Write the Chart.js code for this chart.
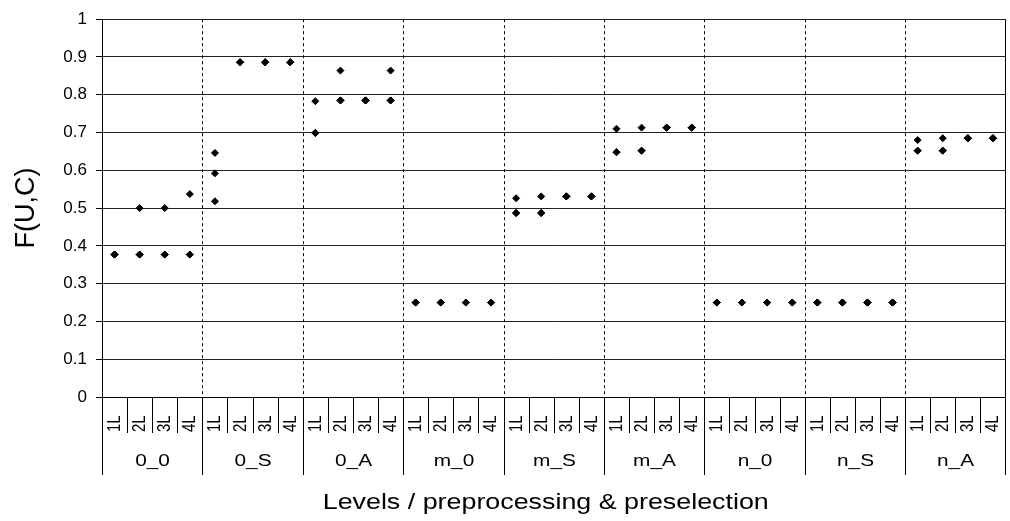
<!DOCTYPE html>
<html>
<head>
<meta charset="utf-8">
<script src="https://cdn.jsdelivr.net/npm/chart.js@4/dist/chart.umd.min.js"></script>
<style>
  html, body { margin: 0; padding: 0; background: #fff; }
  #wrap { width: 1010px; height: 521px; }
</style>
</head>
<body>
<div id="wrap"><canvas id="chart"></canvas></div>
<script>
// ------- Dati -------
const groups = ['0_0', '0_S', '0_A', 'm_0', 'm_S', 'm_A', 'n_0', 'n_S', 'n_A'];
const levels = ['1L', '2L', '3L', '4L'];
const yTicks = [0, 0.1, 0.2, 0.3, 0.4, 0.5, 0.6, 0.7, 0.8, 0.9, 1];

// valori: tre serie, dove coincidono i punti si sovrappongono
const seriesHigh = [
  0.377, 0.500, 0.500, 0.537,   // 0_0
  0.646, 0.886, 0.886, 0.886,   // 0_S
  0.783, 0.864, 0.785, 0.864,   // 0_A
  0.250, 0.250, 0.250, 0.250,   // m_0
  0.526, 0.531, 0.531, 0.531,   // m_S
  0.710, 0.713, 0.713, 0.713,   // m_A
  0.250, 0.250, 0.250, 0.250,   // n_0
  0.250, 0.250, 0.250, 0.250,   // n_S
  0.680, 0.685, 0.685, 0.685    // n_A
];
const seriesMid = [
  0.377, 0.377, 0.377, 0.377,
  0.592, 0.886, 0.886, 0.886,
  0.699, 0.785, 0.785, 0.785,
  0.250, 0.250, 0.250, 0.250,
  0.487, 0.487, 0.531, 0.531,
  0.648, 0.652, 0.713, 0.713,
  0.250, 0.250, 0.250, 0.250,
  0.250, 0.250, 0.250, 0.250,
  0.652, 0.652, 0.685, 0.685
];
const seriesLow = [
  0.377, 0.377, 0.377, 0.377,
  0.518, 0.886, 0.886, 0.886,
  0.699, 0.785, 0.785, 0.785,
  0.250, 0.250, 0.250, 0.250,
  0.487, 0.487, 0.531, 0.531,
  0.648, 0.652, 0.713, 0.713,
  0.250, 0.250, 0.250, 0.250,
  0.250, 0.250, 0.250, 0.250,
  0.652, 0.652, 0.685, 0.685
];

const FONT = "'Liberation Sans', Arial, sans-serif";

// etichette: un livello per ogni categoria, ripetuto per ogni gruppo
const labels = [];
groups.forEach(g => levels.forEach(l => labels.push(l)));

function makeSeries(name, data) {
  return {
    label: name,
    data: data,
    showLine: false,
    pointStyle: 'rectRot',
    pointRadius: 3.5,
    pointHoverRadius: 3.5,
    borderWidth: 1,
    borderColor: '#000',
    backgroundColor: '#000'
  };
}

// testo allargato in orizzontale, come nell'originale
function stretchedText(ctx, text, cx, cy, sx, rot) {
  ctx.save();
  ctx.translate(cx, cy);
  ctx.scale(sx, 1);
  if (rot) ctx.rotate(rot);
  ctx.fillText(text, 0, 0);
  ctx.restore();
}

// ------- Plugin per l'asse x a due livelli -------
const groupAxisPlugin = {
  id: 'groupAxis',
  afterDraw(chart) {
    const ctx = chart.ctx;
    const area = chart.chartArea;
    const x = chart.scales.x;
    const n = labels.length;
    const cell = x.getPixelForValue(1) - x.getPixelForValue(0);
    const boundary = i => Math.round(x.getPixelForValue(0) - cell / 2 + i * cell) + 0.5;

    ctx.save();
    ctx.strokeStyle = '#000';
    ctx.lineWidth = 1;

    // linee tratteggiate fra i gruppi
    ctx.setLineDash([3, 3]);
    for (let i = levels.length; i < n; i += levels.length) {
      ctx.beginPath();
      ctx.moveTo(boundary(i), area.top);
      ctx.lineTo(boundary(i), area.bottom);
      ctx.stroke();
    }
    ctx.setLineDash([]);

    // bordo destro
    ctx.beginPath();
    ctx.moveTo(Math.round(area.right) - 0.5, area.top);
    ctx.lineTo(Math.round(area.right) - 0.5, area.bottom);
    ctx.stroke();

    // separatori sotto l'asse
    for (let i = 0; i <= n; i++) {
      const isGroup = i % levels.length === 0;
      let bx = boundary(i);
      if (i === n) bx = Math.round(area.right) - 0.5;
      ctx.beginPath();
      ctx.moveTo(bx, area.bottom);
      ctx.lineTo(bx, area.bottom + (isGroup ? 78 : 36));
      ctx.stroke();
    }

    // livelli ruotati
    ctx.fillStyle = '#000';
    ctx.font = '15px ' + FONT;
    ctx.textAlign = 'left';
    ctx.textBaseline = 'middle';
    for (let i = 0; i < n; i++) {
      stretchedText(ctx, labels[i], x.getPixelForValue(i) + 0.5, area.bottom + 35, 1.2, -Math.PI / 2);
    }

    // nomi dei gruppi
    ctx.font = '16px ' + FONT;
    ctx.textAlign = 'center';
    groups.forEach((g, gi) => {
      const cx = (boundary(gi * levels.length) + boundary((gi + 1) * levels.length)) / 2;
      stretchedText(ctx, g, cx, area.bottom + 65, 1.3);
    });

    // titolo asse x
    ctx.font = '22px ' + FONT;
    stretchedText(ctx, 'Levels / preprocessing & preselection', (area.left + area.right) / 2 - 8, area.bottom + 106, 1.22);
    ctx.restore();
  }
};

// ------- Grafico -------
const chart = new Chart(document.getElementById('chart'), {
  type: 'line',
  data: {
    labels: labels,
    datasets: [
      makeSeries('max', seriesHigh),
      makeSeries('mid', seriesMid),
      makeSeries('min', seriesLow)
    ]
  },
  options: {
    responsive: true,
    maintainAspectRatio: false,
    animation: false,
    layout: { padding: { top: 15, right: 4, left: 0, bottom: 0 } },
    plugins: {
      legend: { display: false },
      tooltip: { enabled: false }
    },
    scales: {
      x: {
        type: 'category',
        offset: true,
        grid: { display: false },
        border: { display: true, color: '#000', width: 1 },
        ticks: { display: false },
        afterFit: scale => { scale.height = 124; }
      },
      y: {
        min: 0,
        max: 1,
        afterBuildTicks: scale => { scale.ticks = yTicks.map(v => ({ value: v })); },
        ticks: {
          color: '#000',
          font: { family: FONT, size: 17 },
          padding: 9,
          callback: v => String(v)
        },
        grid: {
          color: '#222',
          lineWidth: 1,
          tickLength: 6,
          tickColor: '#000'
        },
        border: { display: true, color: '#000', width: 1 },
        title: {
          display: true,
          text: 'F(U,C)',
          color: '#000',
          font: { family: FONT, size: 27 },
          padding: { top: 10, bottom: 0 }
        },
        afterFit: scale => { scale.width = 102; }
      }
    }
  },
  plugins: [groupAxisPlugin]
});
</script>
</body>
</html>
